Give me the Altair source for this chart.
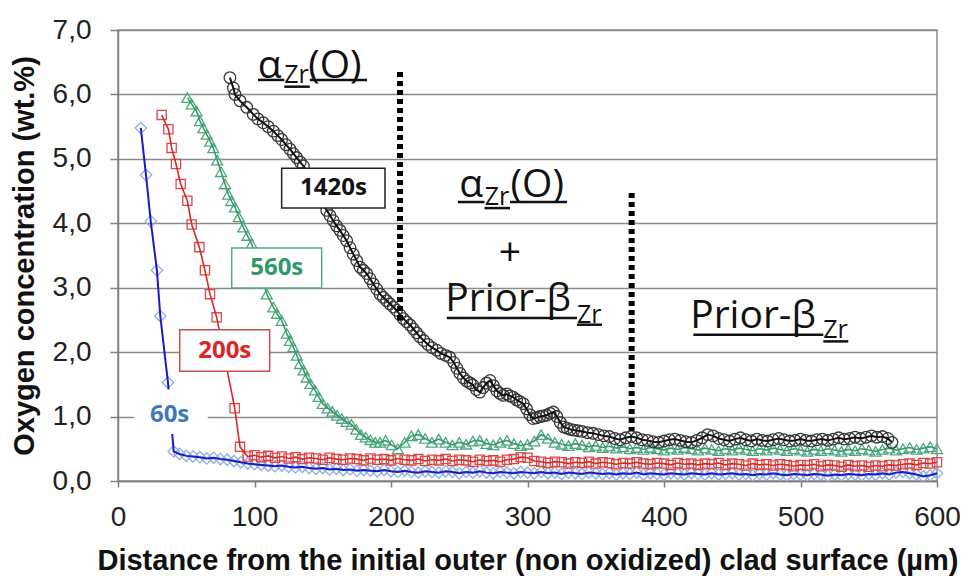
import altair as alt
import pandas as pd

# ---------------- data ----------------
X_TICKS = [0, 100, 200, 300, 400, 500, 600]
Y_TICKS = [0, 1, 2, 3, 4, 5, 6, 7]
X_TITLE = "Distance from the initial outer (non oxidized) clad surface (µm)"
Y_TITLE = "Oxygen  concentration (wt.%)"

# 60 s profile
X_60 = [16.7, 20.5, 24.0, 28.5, 31.0, 36.6, 40.8,
        45, 50, 55, 60, 65, 70, 75, 80, 85, 90, 95, 100, 105, 110, 115, 120, 125, 130, 135, 140,
        145, 150, 155, 160, 165, 170, 175, 180, 185, 190, 195, 200, 205, 210, 215, 220, 225, 230,
        235, 240, 245, 250, 255, 260, 265, 270, 275, 280, 285, 290, 295, 300, 305, 310, 315, 320,
        325, 330, 335, 340, 345, 350, 355, 360, 365, 370, 375, 380, 385, 390, 395, 400, 405, 410,
        415, 420, 425, 430, 435, 440, 445, 450, 455, 460, 465, 470, 475, 480, 485, 490, 495, 500,
        505, 510, 515, 520, 525, 530, 535, 540, 545, 550, 555, 560, 565, 570, 575, 580, 585, 590,
        595, 600]
Y_60 = [5.48, 4.75, 4.03, 3.27, 2.56, 1.53, 0.46,
        0.42, 0.39, 0.38, 0.37, 0.35, 0.36, 0.34, 0.33, 0.31, 0.29, 0.27, 0.26, 0.25, 0.24, 0.23,
        0.24, 0.22, 0.21, 0.22, 0.20, 0.19, 0.20, 0.18, 0.19, 0.17, 0.18, 0.16, 0.17, 0.16, 0.15,
        0.17, 0.15, 0.14, 0.16, 0.14, 0.13, 0.15, 0.14, 0.13, 0.15, 0.14, 0.12, 0.14, 0.13, 0.15,
        0.13, 0.12, 0.14, 0.13, 0.12, 0.14, 0.13, 0.12, 0.14, 0.12, 0.13, 0.11, 0.13, 0.12, 0.11,
        0.13, 0.12, 0.11, 0.12, 0.10, 0.12, 0.11, 0.13, 0.10, 0.12, 0.11, 0.10, 0.12, 0.11, 0.10,
        0.12, 0.11, 0.10, 0.12, 0.10, 0.11, 0.12, 0.10, 0.11, 0.09, 0.11, 0.10, 0.12, 0.10, 0.09,
        0.11, 0.10, 0.09, 0.11, 0.10, 0.08, 0.10, 0.09, 0.11, 0.10, 0.09, 0.11, 0.10, 0.12, 0.10,
        0.13, 0.14, 0.12, 0.10, 0.07, 0.09, 0.12]

# 200 s profile
X_200 = [32.0, 36.9, 39.3, 42.5, 45.9, 50.8, 54.0, 59.6, 63.7, 67.4, 72.3, 85.5, 89.4,
         95, 100, 105, 110, 115, 120, 125, 130, 135, 140, 145, 150, 155, 160, 165, 170, 175, 180,
         185, 190, 195, 200, 205, 210, 215, 220, 225, 230, 235, 240, 245, 250, 255, 260, 265, 270,
         275, 280, 285, 290, 295, 300, 305, 310, 315, 320, 325, 330, 335, 340, 345, 350, 355, 360,
         365, 370, 375, 380, 385, 390, 395, 400, 405, 410, 415, 420, 425, 430, 435, 440, 445, 450,
         455, 460, 465, 470, 475, 480, 485, 490, 495, 500, 505, 510, 515, 520, 525, 530, 535, 540,
         545, 550, 555, 560, 565, 570, 575, 580, 585, 590, 595, 600]
Y_200 = [5.68, 5.46, 5.17, 4.92, 4.61, 4.35, 3.98, 3.63, 3.27, 2.90, 2.54, 1.13, 0.53,
         0.38, 0.40, 0.37, 0.39, 0.36, 0.38, 0.35, 0.37, 0.34, 0.36, 0.35, 0.33, 0.36, 0.34, 0.33,
         0.35, 0.34, 0.32, 0.35, 0.33, 0.34, 0.32, 0.35, 0.33, 0.32, 0.34, 0.31, 0.33, 0.32, 0.34,
         0.31, 0.33, 0.32, 0.30, 0.33, 0.31, 0.32, 0.30, 0.33, 0.34, 0.37, 0.36, 0.31, 0.30, 0.28,
         0.30, 0.29, 0.27, 0.29, 0.28, 0.30, 0.27, 0.29, 0.28, 0.26, 0.28, 0.27, 0.29, 0.27, 0.26,
         0.28, 0.27, 0.25, 0.28, 0.26, 0.27, 0.25, 0.27, 0.26, 0.28, 0.25, 0.27, 0.26, 0.24, 0.27,
         0.25, 0.26, 0.24, 0.26, 0.25, 0.23, 0.25, 0.24, 0.26, 0.23, 0.25, 0.24, 0.22, 0.25, 0.23,
         0.24, 0.22, 0.24, 0.23, 0.25, 0.24, 0.26, 0.27, 0.25, 0.28, 0.27, 0.29]

# 560 s profile
X_560 = [50.8, 54.0, 57.6, 60.0, 62.5, 65.0, 67.5, 69.8, 72.7, 75.5, 78.4, 80.8, 83.0, 85.7,
         88.5, 91.8, 94.8, 97.9, 101.5, 105.0, 109.0, 113.8, 116.5, 119.9, 123.6, 126.0, 128.4,
         131.0, 133.3, 136.0, 138.2, 141.0, 144.3, 147.0, 150.0, 153.5, 157.0, 160.5, 164.0, 167.5,
         171.0, 174.5, 178.0, 181.5, 185.0, 188.5, 192.0, 196.0, 200.5, 205.0, 210.0, 215.0, 220.0,
         225, 230, 235, 240, 245, 250, 255, 260, 265, 270, 275, 280, 285, 290, 295, 300, 305, 310,
         315, 320, 325, 330, 335, 340, 345, 350, 355, 360, 365, 370, 375, 380, 385, 390, 395, 400,
         405, 410, 415, 420, 425, 430, 435, 440, 445, 450, 455, 460, 465, 470, 475, 480, 485, 490,
         495, 500, 505, 510, 515, 520, 525, 530, 535, 540, 545, 550, 555, 560, 565, 570, 575, 580,
         585, 590, 595, 600]
Y_560 = [5.95, 5.85, 5.74, 5.59, 5.48, 5.38, 5.27, 5.17, 4.98, 4.80, 4.61, 4.45, 4.35, 4.25,
         4.10, 3.94, 3.81, 3.68, 3.45, 3.20, 2.90, 2.70, 2.60, 2.49, 2.29, 2.18, 2.08, 1.95, 1.82,
         1.72, 1.61, 1.51, 1.41, 1.31, 1.20, 1.13, 1.08, 1.02, 0.97, 0.92, 0.88, 0.80, 0.72, 0.68,
         0.64, 0.60, 0.60, 0.63, 0.56, 0.50, 0.60, 0.70, 0.72,
         0.66, 0.60, 0.65, 0.60, 0.56, 0.60, 0.57, 0.62, 0.63, 0.58, 0.56, 0.60, 0.63, 0.58, 0.55,
         0.57, 0.62, 0.72, 0.66, 0.60, 0.57, 0.55, 0.58, 0.56, 0.53, 0.55, 0.52, 0.54, 0.51, 0.53,
         0.50, 0.52, 0.49, 0.52, 0.50, 0.48, 0.51, 0.49, 0.52, 0.50, 0.48, 0.51, 0.49, 0.47, 0.50,
         0.48, 0.51, 0.49, 0.47, 0.50, 0.48, 0.51, 0.49, 0.47, 0.50, 0.48, 0.46, 0.49, 0.47, 0.50,
         0.48, 0.46, 0.49, 0.47, 0.50, 0.48, 0.46, 0.49, 0.51, 0.48, 0.50, 0.52, 0.49, 0.51, 0.53,
         0.50]

# 1420 s profile
X_1420 = [82.0, 84.5, 85.7, 89.4, 94.3, 99.1, 102.5, 106.4, 110.0, 113.8, 117.0, 119.9, 123.0,
          126.0, 128.5, 130.9, 133.5, 135.8, 140.0, 145.0, 149.0, 152.9, 155.3, 157.7, 160.1,
          162.6, 165.0, 167.5, 170.0, 172.4, 174.9, 177.3, 179.8, 182.2, 184.6, 187.0, 189.5,
          192.0, 194.4, 196.8, 199.2, 201.7, 204.1, 206.6, 209.0, 211.5, 214.0, 216.4, 218.8,
          221.0, 224.0, 227.0, 230.0, 233.5, 236.5, 240.0, 243.0, 246.0, 248.3, 250.5, 253.0,
          255.5, 258.0, 260.0, 262.5, 265.0, 267.5, 270.0, 272.5, 275.0, 277.5, 279.8, 282.3,
          284.8, 287.2, 289.6, 292.0, 294.5, 296.9, 299.3, 301.7, 304.0, 306.5, 309.0, 311.5,
          314.0, 316.5, 319.0, 321.5, 324.0, 326.5, 329.0, 331.5, 334.0, 337.0,
          340, 344, 348, 352, 356, 360, 364, 368, 372, 376, 380, 384, 388, 392, 396, 400, 404,
          408, 412, 416, 420, 424, 428, 432, 436, 440, 444, 448, 452, 456, 460, 464, 468, 472,
          476, 480, 484, 488, 492, 496, 500, 504, 508, 512, 516, 520, 524, 528, 532, 536, 540,
          544, 548, 552, 556, 560, 564, 567]
Y_1420 = [6.26, 6.10, 6.00, 5.90, 5.80, 5.69, 5.62, 5.56, 5.50, 5.43, 5.36, 5.30, 5.22, 5.15,
          5.08, 5.02, 4.95, 4.89, 4.75, 4.55, 4.35, 4.20, 4.12, 4.04, 3.96, 3.89, 3.81, 3.73,
          3.62, 3.52, 3.42, 3.32, 3.27, 3.22, 3.14, 3.06, 2.98, 2.90, 2.85, 2.80, 2.75, 2.70,
          2.65, 2.58, 2.52, 2.47, 2.42, 2.36, 2.30, 2.24, 2.18, 2.12, 2.07, 2.03, 1.98, 1.95,
          1.92, 1.84, 1.75, 1.67, 1.60, 1.55, 1.52, 1.49, 1.42, 1.38, 1.45, 1.52, 1.56, 1.48,
          1.40, 1.36, 1.33, 1.35, 1.32, 1.30, 1.26, 1.23, 1.20, 1.12, 1.03, 0.97, 0.98, 1.00,
          1.01, 1.02, 1.05, 1.07, 1.00, 0.91, 0.84, 0.82, 0.80, 0.79, 0.78,
          0.77, 0.75, 0.74, 0.72, 0.70, 0.69, 0.66, 0.64, 0.67, 0.69, 0.67, 0.64, 0.63, 0.61,
          0.60, 0.62, 0.64, 0.65, 0.63, 0.61, 0.60, 0.63, 0.67, 0.72, 0.70, 0.66, 0.64, 0.62,
          0.65, 0.67, 0.64, 0.62, 0.65, 0.63, 0.62, 0.64, 0.66, 0.64, 0.62, 0.63, 0.65, 0.63,
          0.62, 0.64, 0.65, 0.63, 0.65, 0.67, 0.65, 0.66, 0.68, 0.66, 0.68, 0.70, 0.68, 0.69,
          0.66, 0.60]

# series styling
SERIES = [
    # (x, y, line colour, marker colour, shape, size, line width)
    (X_60, Y_60, "#1a1ac8", "#8eaee3", "diamond", 130, 2.0),
    (X_200, Y_200, "#d42a2a", "#e04646", "square", 85, 1.6),
    (X_560, Y_560, "#3a9a6c", "#4fa77e", "triangle-up", 120, 1.6),
    (X_1420, Y_1420, "#111111", "#383838", "circle", 135, 2.0),
]

# annotation tables
LABEL_TEXT = ["60s", "200s", "560s", "1420s"]
LABEL_X = [37.8, 78.2, 116.3, 157.8]
LABEL_Y = [1.03, 2.025, 3.305, 4.546]
LABEL_COLOR = ["#3d78b8", "#e02424", "#2f9a66", "#111111"]
BOX_X = [12.5, 45.2, 83.3, 119.9]
BOX_X2 = [65.2, 111.1, 149.2, 195.6]
BOX_Y = [0.74, 1.702, 2.995, 4.236]
BOX_Y2 = [1.41, 2.349, 3.616, 4.856]
BOX_STROKE = ["#ffffff", "#c0504d", "#5aa882", "#222222"]

DOT_X = [206.6, 376.3]
DOT_Y = [6.35, 4.47]
DOT_Y2 = [2.46, 0.78]

MAIN_TEXT = ["α", "(O)", "α", "(O)", "Prior-β", "Prior-β"]
MAIN_X = [102.3, 139.4, 250.0, 287.6, 239.8, 419.2]
MAIN_Y = [6.26, 6.26, 4.415, 4.415, 2.64, 2.375]
SUB_TEXT = ["Zr", "Zr", "Zr", "Zr"]
SUB_X = [121.8, 268.6, 336.2, 516.7]
SUB_Y = [6.17, 4.29, 2.46, 2.22]
UL_X = [102.6, 121.8, 140.5, 249.0, 268.5, 287.2, 240.9, 336.2, 421.5, 516.7]
UL_X2 = [121.8, 140.5, 182.4, 268.5, 287.2, 329.0, 336.2, 354.6, 516.7, 535.0]
UL_Y = [6.225, 6.12, 6.225, 4.33, 4.236, 4.33, 2.53, 2.426, 2.271, 2.167]
PLUS_X = [287.2]
PLUS_Y = [3.54]

# ---------------- chart ----------------
xsc = alt.Scale(domain=[0, 600], nice=False, zero=False)
ysc = alt.Scale(domain=[0, 7], nice=False, zero=False)

x_axis = alt.Axis(values=X_TICKS, title=X_TITLE, grid=False, labelFontSize=28,
                  labelFont="Liberation Sans", labelColor="#222222", labelFlush=False,
                  labelOverlap=False, labelPadding=16, tickSize=6, tickColor="#808080",
                  tickWidth=1.5, domainColor="#808080", domainWidth=1.5,
                  titleFont="Liberation Sans", titleFontSize=29, titleFontWeight="bold",
                  titleColor="#111111", titlePadding=15)
y_axis = alt.Axis(values=Y_TICKS, title=Y_TITLE, grid=True, gridColor="#8c8c8c",
                  gridWidth=1.5, labelFontSize=28, labelFont="Liberation Sans",
                  labelColor="#222222", labelFlush=False, labelOverlap=False,
                  labelPadding=19, tickSize=8, tickColor="#808080", tickWidth=1.5,
                  domainColor="#808080", domainWidth=1.5,
                  labelExpr="replace(format(datum.value, '.1f'), '.', ',')",
                  titleFont="Liberation Sans", titleFontSize=29, titleFontWeight="bold",
                  titleColor="#111111", titlePadding=13)


def X(f="x"):
    return alt.X(f"{f}:Q", scale=xsc, axis=x_axis)


def Y(f="y"):
    return alt.Y(f"{f}:Q", scale=ysc, axis=y_axis)


layers = []
for xs, ys, lc, mc, shape, size, lw in SERIES:
    df = pd.DataFrame({"x": xs, "y": ys})
    base = alt.Chart(df)
    layers.append(base.mark_point(shape=shape, filled=False, size=size, strokeWidth=1.3,
                                  color=mc, opacity=1).encode(x=X(), y=Y()))
    layers.append(base.mark_line(color=lc, strokeWidth=lw).encode(x=X(), y=Y()))

dots = pd.DataFrame({"x": DOT_X, "y": DOT_Y, "y2": DOT_Y2})
layers.append(alt.Chart(dots).mark_rule(color="#000000", strokeWidth=6, strokeDash=[5, 4])
              .encode(x=X(), y=Y(), y2="y2:Q"))

boxes = pd.DataFrame({"x": BOX_X, "x2": BOX_X2, "y": BOX_Y, "y2": BOX_Y2, "c": BOX_STROKE})
layers.append(alt.Chart(boxes).mark_rect(fill="#ffffff", strokeWidth=1.5)
              .encode(x=X(), x2="x2:Q", y=Y(), y2="y2:Q", stroke=alt.Stroke("c:N", scale=None)))

labels = pd.DataFrame({"x": LABEL_X, "y": LABEL_Y, "t": LABEL_TEXT, "c": LABEL_COLOR})
layers.append(alt.Chart(labels).mark_text(font="Open Sans", fontSize=24, fontWeight="bold",
                                          align="center", baseline="middle")
              .encode(x=X(), y=Y(), text="t:N", color=alt.Color("c:N", scale=None)))

main = pd.DataFrame({"x": MAIN_X, "y": MAIN_Y, "t": MAIN_TEXT})
layers.append(alt.Chart(main).mark_text(font="Open Sans", fontSize=39, align="left",
                                        baseline="alphabetic", color="#111111")
              .encode(x=X(), y=Y(), text="t:N"))

sub = pd.DataFrame({"x": SUB_X, "y": SUB_Y, "t": SUB_TEXT})
layers.append(alt.Chart(sub).mark_text(font="Open Sans", fontSize=25, align="left",
                                       baseline="alphabetic", color="#111111")
              .encode(x=X(), y=Y(), text="t:N"))

ul = pd.DataFrame({"x": UL_X, "x2": UL_X2, "y": UL_Y})
layers.append(alt.Chart(ul).mark_rule(color="#111111", strokeWidth=2.5)
              .encode(x=X(), x2="x2:Q", y=Y()))

plus = pd.DataFrame({"x": PLUS_X, "y": PLUS_Y, "t": ["+"]})
layers.append(alt.Chart(plus).mark_text(font="Open Sans", fontSize=39, align="center",
                                        baseline="middle", color="#111111")
              .encode(x=X(), y=Y(), text="t:N"))

chart = alt.layer(*layers).properties(
    width=819, height=451,
    autosize=alt.AutoSizeParams(type="none"),
    padding={"left": 110, "top": 22, "right": 23, "bottom": 95},
    background="#ffffff",
).configure_view(stroke="#8c8c8c", strokeWidth=1.5)

chart.save("out.html", embed_options={"renderer": "svg", "actions": False})
